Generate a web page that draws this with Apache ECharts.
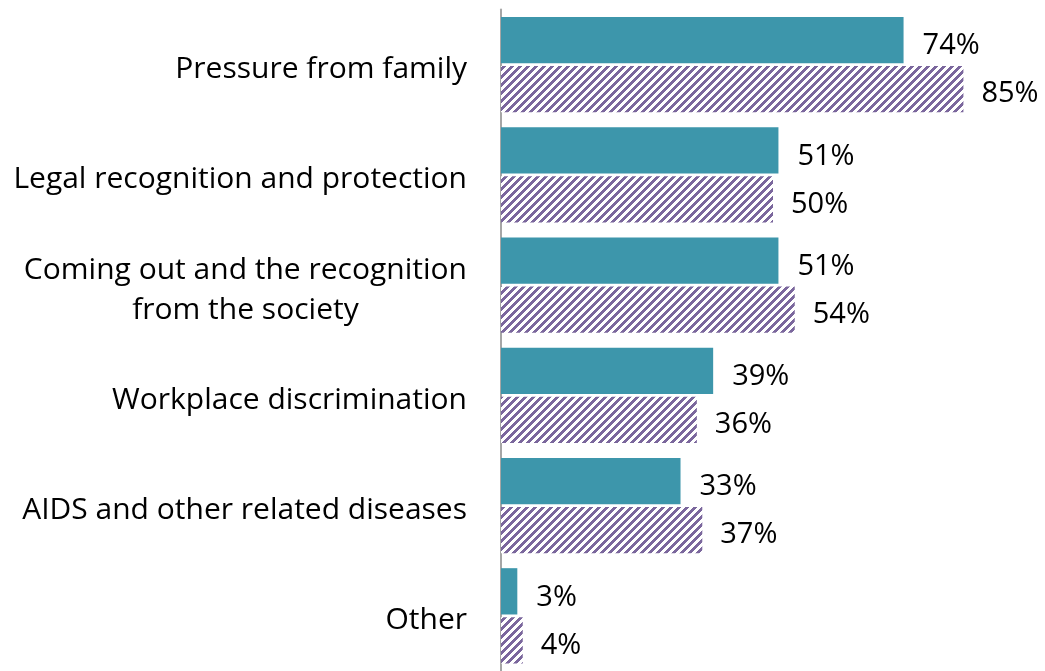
<!DOCTYPE html>
<html><head><meta charset="utf-8">
<script src="https://cdn.jsdelivr.net/npm/echarts@6/dist/echarts.min.js"></script>
<style>html,body{margin:0;padding:0;background:#fff}#c{width:1045px;height:671px}</style>
</head><body><div id="c"></div>
<script>
const categories = ['Pressure from family','Legal recognition and protection','Coming out and the recognition\nfrom the society','Workplace discrimination','AIDS and other related diseases','Other'];
const seriesA = [74,51,51,39,33,3];
const seriesB = [85,50,54,36,37,4];

function hatch(){
  const s = 8, c = document.createElement('canvas');
  c.width = s; c.height = s;
  const g = c.getContext('2d');
  g.fillStyle = '#ffffff'; g.fillRect(0,0,s,s);
  g.fillStyle = '#7b679d';
  for (let y=0;y<s;y++) for (let x=0;x<s;x++) if ((x+y)%s < 4) g.fillRect(x,y,1,1);
  return c;
}
const chart = echarts.init(document.getElementById('c'));
const font = '"Open Sans", sans-serif';
chart.setOption({
  animation:false,
  grid:{left:501, right:-2, top:9.5, bottom:-4.5, containLabel:false},
  xAxis:{type:'value', min:0, max:100, show:false},
  yAxis:{type:'category', inverse:true, data:categories,
    axisLine:{show:true, lineStyle:{color:'#a6a6a6', width:2}},
    axisTick:{show:false},
    axisLabel:{margin:34, color:'#000', fontFamily:font, fontSize:30, lineHeight:40, padding:[10,0,0,0],
      formatter: v => v.split('\n').map(l=>'{c|'+l+'}').join('\n'),
      rich:{c:{align:'center', fontFamily:font, fontSize:30, color:'#000', lineHeight:40}}}
  },
  series:[
    {type:'bar', data:seriesA, barWidth:'42%', barGap:'6%', barCategoryGap:'12.6%',
     itemStyle:{color:'#3d96ab'},
     label:{show:true, position:'right', distance:19, offset:[0,6], formatter:'{c}%', color:'#000', fontFamily:font, fontSize:29}},
    {type:'bar', data:seriesB, barWidth:'42%',
     itemStyle:{color:{image:hatch(), repeat:'repeat'}},
     label:{show:true, position:'right', distance:18, offset:[0,5], formatter:'{c}%', color:'#000', fontFamily:font, fontSize:29}}
  ]
});
</script></body></html>
